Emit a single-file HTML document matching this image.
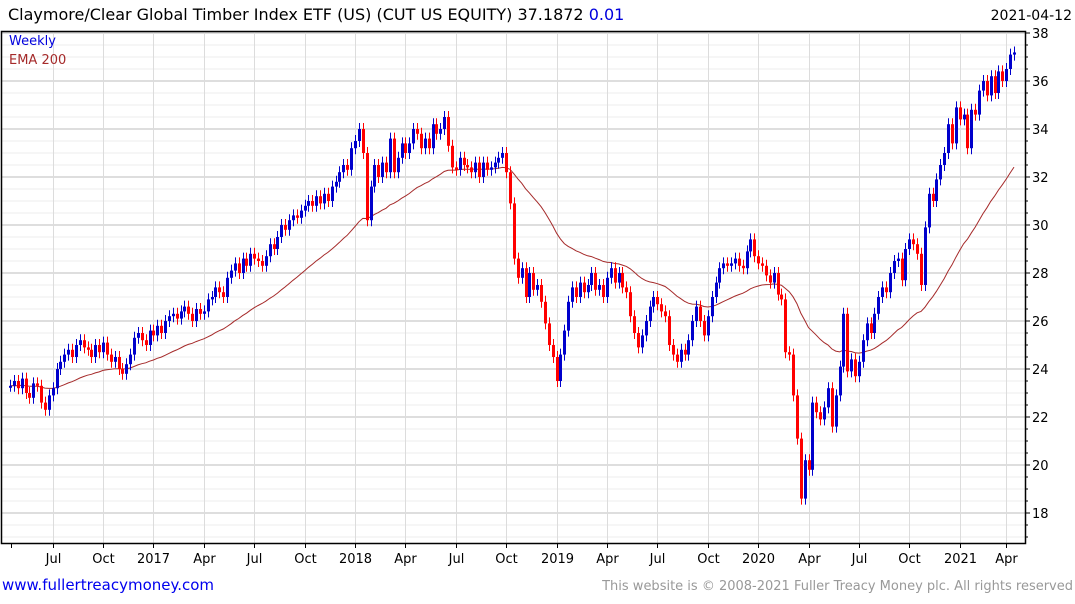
<!DOCTYPE html>
<html><head><meta charset="utf-8"><style>
body{margin:0;background:#fff;width:1075px;height:600px;overflow:hidden;font-family:"DejaVu Sans","Liberation Sans",sans-serif}
svg text{font-family:"DejaVu Sans","Liberation Sans",sans-serif}
</style></head><body>
<svg id="chart" width="1075" height="600" xmlns="http://www.w3.org/2000/svg">
<text x="8" y="20" font-size="16" fill="#000">Claymore/Clear Global Timber Index ETF (US) (CUT US EQUITY) 37.1872 <tspan fill="#0000dd">0.01</tspan></text>
<text x="1072" y="20" font-size="14" fill="#000" text-anchor="end">2021-04-12</text>
<g id="grid"></g>
<g id="ema"></g>
<g id="candles"></g>
<g id="axes"></g>
<text x="9" y="45" font-size="13" fill="#0000dd">Weekly</text>
<text x="9" y="64" font-size="13" fill="#a52a2a">EMA 200</text>
<text x="2" y="590" font-size="15" fill="#0000ee">www.fullertreacymoney.com</text>
<text x="1073" y="590" font-size="13" fill="#999" text-anchor="end">This website is © 2008-2021 Fuller Treacy Money plc. All rights reserved</text>
</svg>
<script>
const closes = [
23.3,23.5,23.2,23.6,23.0,22.8,23.4,23.3,22.6,22.3,22.9,23.2,
24.0,24.3,24.6,24.8,24.5,25.0,25.2,24.9,24.8,24.5,25.0,24.7,25.1,
24.6,24.3,24.5,24.0,23.8,24.2,24.6,25.3,25.5,25.2,25.0,25.6,25.4,
25.8,25.5,26.0,26.2,26.3,26.1,26.4,26.6,26.3,26.0,26.5,26.3,26.4,
26.9,27.0,27.4,27.2,27.0,27.8,28.1,28.4,28.0,28.6,28.3,28.8,28.6,
28.5,28.3,28.7,29.2,29.0,29.5,30.0,29.8,30.2,30.4,30.3,30.6,30.8,
31.0,30.8,31.2,30.9,31.3,31.0,31.6,31.8,32.2,32.5,32.3,33.2,33.5,
34.0,33.0,30.2,31.6,32.5,32.0,32.6,32.2,33.6,32.2,32.8,33.4,33.0,
33.4,34.0,33.8,33.2,33.6,33.2,34.2,33.8,34.0,34.5,33.3,32.4,32.3,
32.8,32.5,32.4,32.2,32.6,32.0,32.6,32.3,32.4,32.6,32.8,33.0,32.2,
30.9,28.6,27.8,28.2,27.0,28.0,27.3,27.5,26.8,25.9,25.0,24.5,23.5,
24.6,25.6,26.8,27.4,27.0,27.6,27.2,27.5,28.0,27.3,27.5,27.0,27.8,
28.2,27.6,28.0,27.4,27.2,26.2,25.5,24.9,25.4,26.0,26.6,27.0,26.7,
26.4,26.2,25.0,24.6,24.3,24.8,24.6,25.2,26.0,26.6,26.0,25.4,26.2,
27.0,27.6,28.2,28.4,28.3,28.4,28.6,28.3,28.2,28.9,29.4,28.7,28.4,
28.3,27.9,27.6,28.0,27.1,26.9,24.7,24.6,22.9,21.1,18.6,20.2,19.8,22.6,
22.2,21.9,22.4,23.2,21.6,22.9,24.1,26.3,23.9,24.4,23.7,24.3,25.2,
25.9,25.5,26.3,27.0,27.4,27.2,28.0,28.5,28.6,27.7,29.0,29.4,29.2,
28.8,27.5,29.9,31.3,31.0,31.9,32.5,33.0,34.2,33.4,34.9,34.4,34.6,
33.2,34.8,34.6,35.6,36.0,35.4,36.2,35.5,36.4,36.0,36.5,37.1,37.19];
const yTicks = [18,20,22,24,26,28,30,32,34,36,38];
const xLabels = ["Jul","Oct","2017","Apr","Jul","Oct","2018","Apr","Jul","Oct","2019","Apr","Jul","Oct","2020","Apr","Jul","Oct","2021","Apr"];
const xLabelWeeks = [11,24,37,50,63,76,89,102,115,128,141,154,167,180,193,206,219,232,245,257];
const emaPeriod = 40;

const NS="http://www.w3.org/2000/svg";
const L=1,R=1025,T=31,B=543;
const y = v => 513 - (v-18)*24;
const x = i => 10 + i*(1004/(closes.length-1));
function mk(tag,attrs,parent){const e=document.createElementNS(NS,tag);for(const k in attrs)e.setAttribute(k,attrs[k]);parent.appendChild(e);return e;}
const grid=document.getElementById('grid'),axes=document.getElementById('axes'),cg=document.getElementById('candles'),eg=document.getElementById('ema');

// horizontal grid
for(let v=17;v<=38;v+=0.5){
  const major = Math.abs(v%2)<1e-9;
  const l=mk('line',{x1:L,x2:R,y1:y(v),y2:y(v),stroke:major?'#bdbdbd':'#ececec','stroke-width':1},grid);
  
  
  const t=mk('line',{x1:R,x2:R+(major?5:3),y1:y(v),y2:y(v),stroke:'#000'},axes);
  
  
}
// vertical grid & labels
xLabelWeeks.forEach((w,i)=>{
  const xx=Math.round(x(w))+0.5;
  const l=mk('line',{x1:xx,x2:xx,y1:T,y2:B,stroke:'#dcdcdc'},grid);
  
  
  const t=mk('line',{x1:xx,x2:xx,y1:B,y2:B+5,stroke:'#000'},axes);
  
  
  const tx=mk('text',{x:xx,y:563,'font-size':13,'text-anchor':'middle',fill:'#000'},axes);
  tx.textContent=xLabels[i];
  
  
});
{const t=mk('line',{x1:11.5,x2:11.5,y1:B,y2:B+5,stroke:'#000'},axes);

}
yTicks.forEach(v=>{
  const tx=mk('text',{x:R+7,y:y(v)+5,'font-size':13,fill:'#000'},axes);
  tx.textContent=v;
  
  
});
// frame
const fr=mk('path',{d:`M${L+0.5},${T+0.5}H${R+0.5}V${B+0.5}H${L+0.5}Z`,fill:'none',stroke:'#000','stroke-width':1.5},axes);



// EMA
const a=2/(emaPeriod+1);let e=closes[0];const pts=[];
closes.forEach((c,i)=>{e=i?e+a*(c-e):c;pts.push(x(i).toFixed(1)+','+y(e).toFixed(1));});
const pl=mk('polyline',{points:pts.join(' '),fill:'none',stroke:'#a52a2a','stroke-width':1},eg);



// candles
closes.forEach((c,i)=>{
  const o=i?closes[i-1]:c;
  const up=c>=o, col=up?'#0000cc':'#ff0000';
  const hi=Math.max(o,c)+0.25, lo=Math.min(o,c)-0.25;
  const xx=Math.round(x(i))+0.5;
  const g=mk('g',{},cg);
  
  
  mk('line',{x1:xx,x2:xx,y1:y(hi),y2:y(lo),stroke:col,'stroke-width':1},g);
  const top=y(Math.max(o,c)),h=Math.max(2,Math.abs(y(o)-y(c)));
  mk('rect',{x:xx-1.5,y:top,width:3,height:h,fill:col},g);
});
</script>
</body></html>
